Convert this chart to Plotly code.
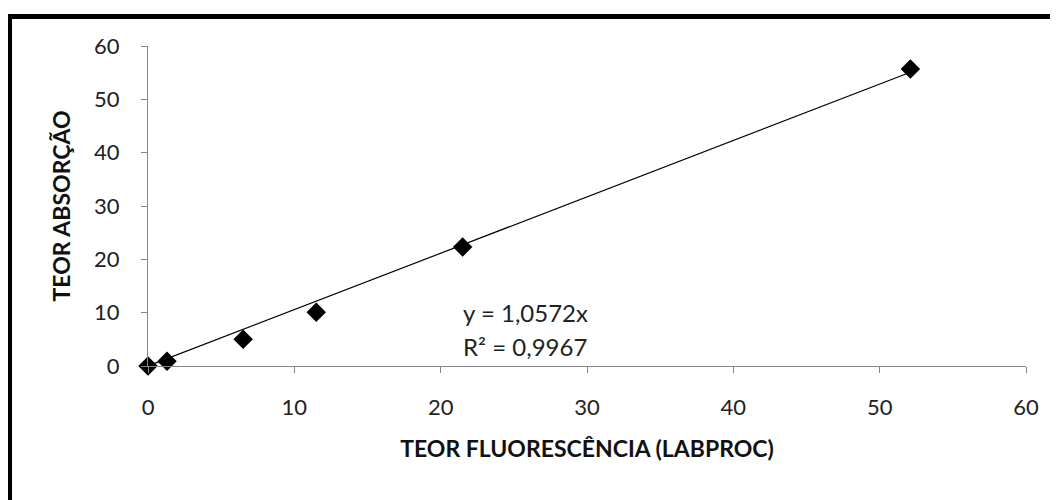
import plotly.graph_objects as go

x_fluor = [0, 1.3, 6.5, 11.5, 21.5, 52.1]
y_absor = [0, 0.9, 5.0, 10.1, 22.3, 55.7]
slope = 1.0572
x_ticks = [0, 10, 20, 30, 40, 50, 60]
y_ticks = [0, 10, 20, 30, 40, 50, 60]
eq_lines = ["y = 1,0572x", "R² = 0,9967"]

trend_x = [0, max(x_fluor)]
trend_y = [slope * v for v in trend_x]

FONT = "Lato, 'Open Sans', sans-serif"

fig = go.Figure()
fig.add_trace(go.Scatter(x=trend_x, y=trend_y, mode="lines",
                         line=dict(color="#000000", width=1.2), showlegend=False,
                         hoverinfo="skip", cliponaxis=False))
fig.add_trace(go.Scatter(x=x_fluor, y=y_absor, mode="markers",
                         marker=dict(symbol="diamond", size=15, color="#000000"),
                         showlegend=False, cliponaxis=False))

axis_common = dict(showgrid=False, zeroline=False, showline=True,
                   linecolor="#868686", linewidth=1, ticks="outside",
                   ticklen=6, tickcolor="#868686",
                   tickfont=dict(family=FONT, size=22, color="#222222"))

fig.update_xaxes(range=[0, 60], tickvals=x_ticks, ticktext=[str(v) for v in x_ticks],
                 ticklabelstandoff=16,
                 title=dict(text="<b>TEOR FLUORESCÊNCIA (LABPROC)</b>",
                            font=dict(family=FONT, size=23, color="#111111"), standoff=21),
                 **axis_common)
fig.update_yaxes(range=[0, 60], tickvals=y_ticks, ticktext=[str(v) for v in y_ticks],
                 ticklabelstandoff=17,
                 title=dict(text="<b>TEOR ABSORÇÃO</b>",
                            font=dict(family=FONT, size=23, color="#111111"), standoff=17),
                 **axis_common)

for txt, yv in zip(eq_lines, [10.1, 3.75]):
    fig.add_annotation(x=21.4, y=yv, xref="x", yref="y",
                       text=txt, showarrow=False,
                       align="left", xanchor="left", yanchor="middle",
                       font=dict(family=FONT, size=24, color="#222222"))

fig.add_shape(type="rect", xref="paper", yref="paper",
              x0=-0.1577, x1=1.2, y0=-0.8, y1=1.0922,
              line=dict(color="#000000", width=5), fillcolor="rgba(0,0,0,0)")

fig.update_layout(width=1050, height=492,
                  margin=dict(l=140, r=32, t=38, b=134, autoexpand=False),
                  plot_bgcolor="white", paper_bgcolor="white",
                  font=dict(family=FONT))

fig.write_html("out.html")
